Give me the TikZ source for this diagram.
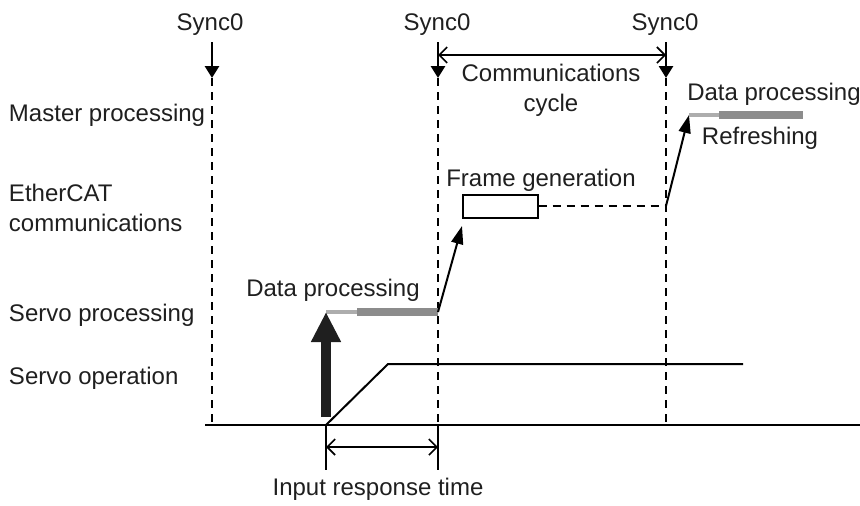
\documentclass[tikz,border=0pt]{standalone}
\usepackage{fontspec}
\setmainfont{Liberation Sans}
\usetikzlibrary{arrows.meta}

\begin{document}
\begin{tikzpicture}[
    x=0.5pt, y=-0.5pt,
    line width=1pt,
    font=\fontsize{12}{15}\selectfont,
    every node/.style={text=black!88},
    rotulo/.style={inner sep=0pt, anchor=base},
    linha/.style={inner sep=0pt, anchor=base west},
    tracejado/.style={line width=1pt, dash pattern=on 4pt off 3pt},
    sinc/.style={line width=1.4pt, -{Triangle[length=6pt,width=7pt]}},
    seta/.style={line width=1pt, -{Triangle[length=9pt,width=6pt]}},
    cota/.style={line width=0.8pt, {Straight Barb[length=4pt,width=8pt]}-{Straight Barb[length=4pt,width=8pt]}},
    claro/.style={draw=black!32, line width=1.8pt},
    escuro/.style={draw=black!45, line width=4pt},
  ]
  \useasboundingbox (0,0) rectangle (860,505);

  % Linhas da esquerda
  \node[linha] (mestre) at (8,121) {Master processing};
  \node[inner sep=0pt, anchor=west, align=left] (ecat) at (8,208) {EtherCAT\\communications};
  \node[linha] (servoproc) at (8,321) {Servo processing};
  \node[linha] (servoop) at (8,384) {Servo operation};

  % Sync0
  \node[rotulo] (sync1) at (210,30) {Sync0};
  \node[rotulo] (sync2) at (437,30) {Sync0};
  \node[rotulo] (sync3) at (665,30) {Sync0};
  \coordinate (top1) at (212,42);
  \coordinate (top2) at (438,42);
  \coordinate (top3) at (666,42);
  \coordinate (t1) at (212,78);
  \coordinate (t2) at (438,78);
  \coordinate (t3) at (666,78);
  \coordinate (b1) at (212,425);
  \coordinate (b2) at (438,425);
  \coordinate (b3) at (666,425);
  \draw[sinc] (top1) -- (t1);
  \draw[sinc] (top2) -- (t2);
  \draw[sinc] (top3) -- (t3);
  \draw[tracejado] (t1) -- (b1);
  \draw[tracejado] (t2) -- (b2);
  \draw[tracejado] (t3) -- (b3);

  % Ciclo de comunicacao
  \coordinate (c1) at (438,55);
  \coordinate (c2) at (666,55);
  \draw[cota] (c1) -- (c2);
  \node[inner sep=0pt, align=center] (ciclo) at (551,90) {Communications\\cycle};

  % Servo processing
  \coordinate (sp0) at (326,312);
  \coordinate (sp1) at (357,312);
  \coordinate (sp2) at (438,312);
  \draw[claro] (sp0) -- (sp1);
  \draw[escuro] (sp1) -- (sp2);
  \node[rotulo] (dp1) at (333,296) {Data processing};

  % EtherCAT
  \node[draw, line width=1pt, minimum width=37.5pt, minimum height=11.5pt, inner sep=0pt] (frame) at (500,206) {};
  \node[rotulo] (fglabel) at (541,186) {Frame generation};
  \coordinate (fg) at (462,226);
  \coordinate (e3) at (666,206);
  \draw[seta] (sp2) -- (fg);
  \draw[tracejado] (frame.east) -- (e3);

  % Master processing
  \coordinate (mp1) at (689,115);
  \coordinate (mp2) at (719,115);
  \coordinate (mp3) at (803,115);
  \draw[seta] (e3) -- (mp1);
  \draw[claro] (mp1) -- (mp2);
  \draw[escuro] (mp2) -- (mp3);
  \node[rotulo] (dp2) at (774,100) {Data processing};
  \node[rotulo] (refresh) at (760,144) {Refreshing};

  % Servo operation
  \coordinate (op0) at (205,425);
  \coordinate (op1) at (326,425);
  \coordinate (op2) at (388,364);
  \coordinate (op3) at (743,364);
  \coordinate (op4) at (860,425);
  \coordinate (imp) at (326,417);
  \draw[line width=5pt, draw=black!88, -{Triangle[length=15pt,width=14pt]}] (imp) -- (sp0);
  \draw (op0) -- (op4);
  \draw (op1) -- (op2) -- (op3);

  % Tempo de resposta
  \coordinate (r1) at (326,470);
  \coordinate (r2) at (438,470);
  \draw[line width=0.8pt] (op1) -- (r1);
  \draw[line width=0.8pt] (b2) -- (r2);
  \coordinate (ra) at (326,447);
  \coordinate (rb) at (438,447);
  \draw[cota] (ra) -- (rb);
  \node[rotulo] (resposta) at (378,495) {Input response time};
\end{tikzpicture}
\end{document}
